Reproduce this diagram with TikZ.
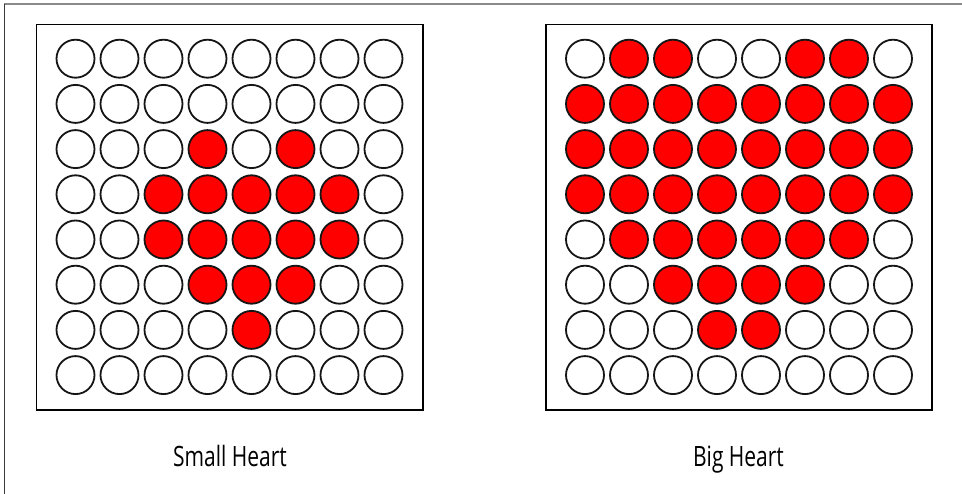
\documentclass[tikz,border=0pt]{standalone}
\usepackage{fontspec}
\newfontfamily\labelfont[FakeStretch=0.75]{Open Sans}
\definecolor{framegray}{HTML}{8A8A8A}
\definecolor{frameleft}{HTML}{3A3A3A}
\definecolor{ringcol}{HTML}{151515}
\definecolor{ledred}{HTML}{FF0000}
\tikzset{
  cell/.style={circle, draw=ringcol, line width=1.8pt, minimum size=38pt, inner sep=0pt},
  panel/.style={draw=black, line width=1.8pt, fill=white},
  caption/.style={font=\labelfont\fontsize{28}{30}\selectfont, text=black, anchor=base, inner sep=0pt}
}
\begin{document}
\begin{tikzpicture}[x=1pt,y=-1pt]
\useasboundingbox (0,0) rectangle (962,494);
% outer frame (top and left edges)
\draw[framegray, line width=1.5pt] (4.3,4) -- (962,4);
\draw[frameleft, line width=1.3pt] (4.3,4) -- (4.3,494);
% panels
\draw[panel] (36.5,24.5) rectangle (423,410);
\draw[panel] (546,24.5) rectangle (932,410);
% small heart
\foreach \rowlist [count=\r from 0] in {
  {0,0,0,0,0,0,0,0},
  {0,0,0,0,0,0,0,0},
  {0,0,0,1,0,1,0,0},
  {0,0,1,1,1,1,1,0},
  {0,0,1,1,1,1,1,0},
  {0,0,0,1,1,1,0,0},
  {0,0,0,0,1,0,0,0},
  {0,0,0,0,0,0,0,0}} {
  \foreach \v [count=\c from 0] in \rowlist {
    \ifnum\v=1 \def\fc{ledred}\else\def\fc{white}\fi
    \node[cell, fill=\fc] (S-\r-\c) at (75.5+44*\c, 58.7+45.2*\r) {};
  }
}
% big heart
\foreach \rowlist [count=\r from 0] in {
  {0,1,1,0,0,1,1,0},
  {1,1,1,1,1,1,1,1},
  {1,1,1,1,1,1,1,1},
  {1,1,1,1,1,1,1,1},
  {0,1,1,1,1,1,1,0},
  {0,0,1,1,1,1,0,0},
  {0,0,0,1,1,0,0,0},
  {0,0,0,0,0,0,0,0}} {
  \foreach \v [count=\c from 0] in \rowlist {
    \ifnum\v=1 \def\fc{ledred}\else\def\fc{white}\fi
    \node[cell, fill=\fc] (B-\r-\c) at (585+44*\c, 58.7+45.2*\r) {};
  }
}
% captions
\node[caption] (smallcap) at (230,466) {Small Heart};
\node[caption] (bigcap) at (738.5,466) {Big Heart};
\end{tikzpicture}
\end{document}
